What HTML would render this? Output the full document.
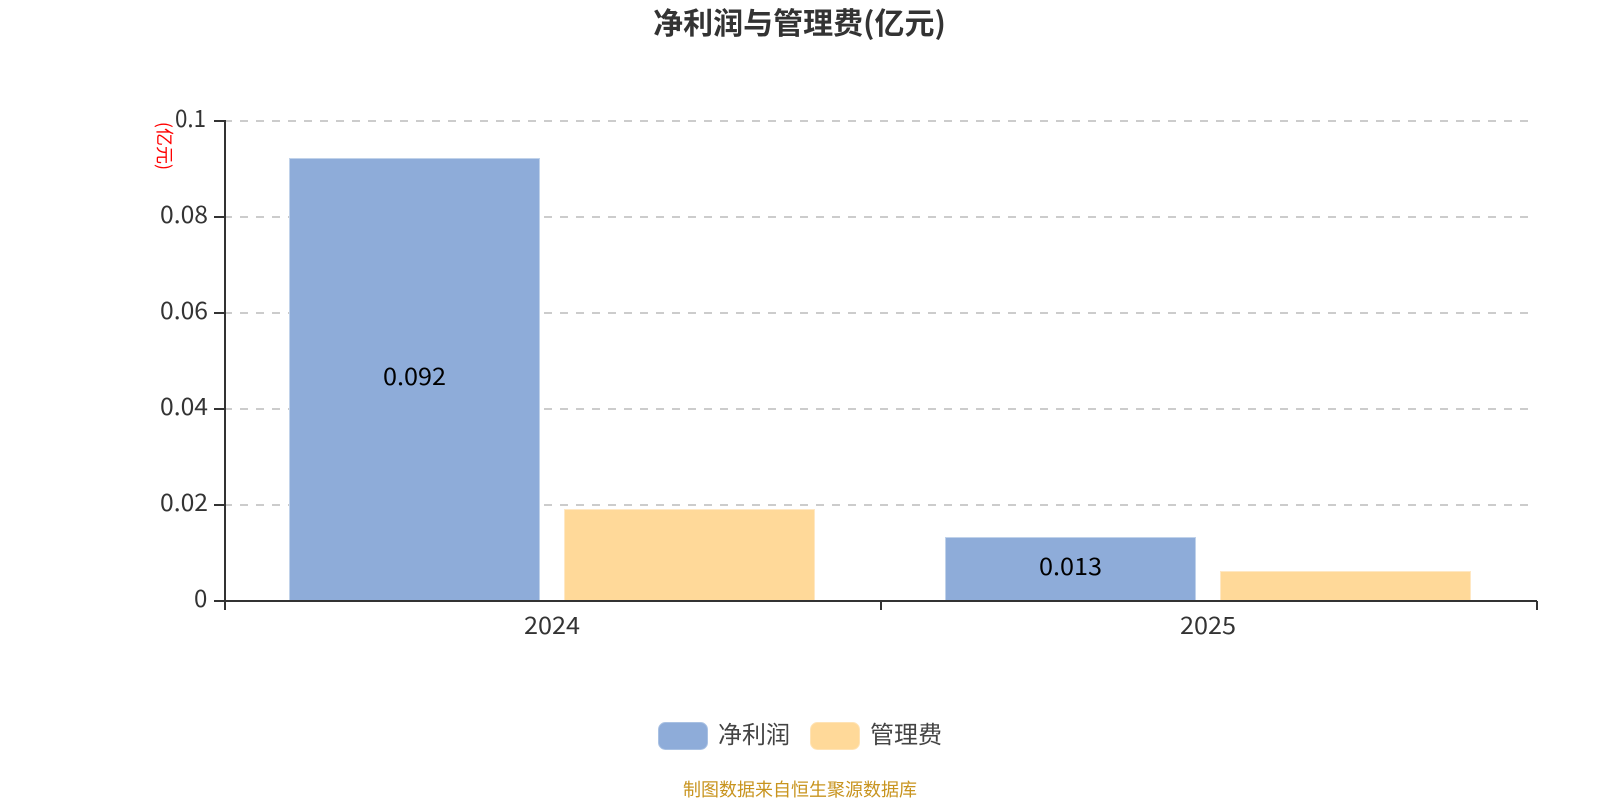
<!DOCTYPE html>
<html>
<head>
<meta charset="utf-8">
<style>
html,body{margin:0;padding:0;background:#fff;width:1600px;height:800px;overflow:hidden}
svg{display:block}
text{font-family:"Noto Sans CJK SC","Liberation Sans",sans-serif}
</style>
</head>
<body>
<svg width="1600" height="800" viewBox="0 0 1600 800" xmlns="http://www.w3.org/2000/svg">
<rect width="1600" height="800" fill="#fff"/>
<text x="799.5" y="34" text-anchor="middle" font-size="30" font-weight="700" fill="#333">净利润与管理费(亿元)</text>

<g stroke="#ccc" stroke-width="2" stroke-dasharray="8 8">
<line x1="224" y1="121" x2="1530" y2="121"/>
<line x1="224" y1="217" x2="1530" y2="217"/>
<line x1="224" y1="313" x2="1530" y2="313"/>
<line x1="224" y1="409" x2="1530" y2="409"/>
<line x1="224" y1="505" x2="1530" y2="505"/>
</g>

<g fill="#8eacd9" stroke="#c0d2ea" stroke-width="1">
<rect x="289.5" y="158.5" width="250" height="442"/>
<rect x="945.5" y="537.5" width="250" height="63"/>
</g>
<g fill="#ffd999" stroke="#ffe8c4" stroke-width="1">
<rect x="564.5" y="509.5" width="250" height="91"/>
<rect x="1220.5" y="571.5" width="250" height="29"/>
</g>

<g stroke="#333" stroke-width="2" fill="none">
<line x1="225" y1="120" x2="225" y2="602"/>
<line x1="224" y1="601" x2="1537" y2="601"/>
<line x1="214" y1="121" x2="225" y2="121"/>
<line x1="214" y1="217" x2="225" y2="217"/>
<line x1="214" y1="313" x2="225" y2="313"/>
<line x1="214" y1="409" x2="225" y2="409"/>
<line x1="214" y1="505" x2="225" y2="505"/>
<line x1="214" y1="601" x2="225" y2="601"/>
<line x1="225" y1="601" x2="225" y2="610"/>
<line x1="881" y1="601" x2="881" y2="610"/>
<line x1="1537" y1="601" x2="1537" y2="610"/>
</g>

<g font-size="24" fill="#333">
<text x="175" y="127" textLength="31" lengthAdjust="spacingAndGlyphs">0.1</text>
<text x="160" y="223" textLength="48" lengthAdjust="spacingAndGlyphs">0.08</text>
<text x="160" y="319" textLength="48" lengthAdjust="spacingAndGlyphs">0.06</text>
<text x="160" y="415" textLength="48" lengthAdjust="spacingAndGlyphs">0.04</text>
<text x="160" y="511" textLength="48" lengthAdjust="spacingAndGlyphs">0.02</text>
<text x="194" y="607">0</text>
</g>
<g font-size="24" fill="#333">
<text x="524" y="634" textLength="56" lengthAdjust="spacingAndGlyphs">2024</text>
<text x="1180" y="634" textLength="56" lengthAdjust="spacingAndGlyphs">2025</text>
</g>
<g font-size="24" fill="#000">
<text x="383" y="385" textLength="63" lengthAdjust="spacingAndGlyphs">0.092</text>
<text x="1039" y="575" textLength="63" lengthAdjust="spacingAndGlyphs">0.013</text>
</g>

<text transform="translate(158,146) rotate(90)" text-anchor="middle" font-size="18" fill="#f00">(亿元)</text>

<rect x="658.5" y="722.5" width="49" height="27" rx="7" fill="#8eacd9" stroke="#a9c1e3"/>
<text x="718" y="743" font-size="24" fill="#444">净利润</text>
<rect x="810.5" y="722.5" width="49" height="27" rx="7" fill="#ffd999" stroke="#ffe3b5"/>
<text x="870" y="743" font-size="24" fill="#444">管理费</text>

<text x="800" y="796" text-anchor="middle" font-size="18" fill="#c8941f">制图数据来自恒生聚源数据库</text>
</svg>
</body>
</html>
